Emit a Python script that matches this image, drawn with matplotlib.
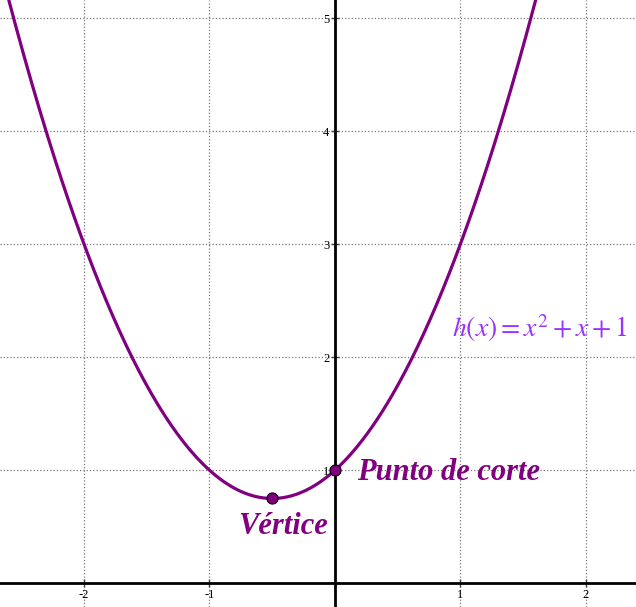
import numpy as np
import matplotlib.pyplot as plt

# parabola h(x) = x^2 + x + 1
coef = [1, 1, 1]
x_ticks = [-2, -1, 1, 2]
y_ticks = [1, 2, 3, 4, 5]
point_x = [-0.5, 0]
point_labels = ["Vértice", "Punto de corte"]

purple = "#800080"
plt.rcParams["axes.unicode_minus"] = False
plt.rcParams["mathtext.fontset"] = "stix"

fig = plt.figure(figsize=(6.36, 6.07), dpi=100)
ax = fig.add_axes([0, 0, 1, 1])
ax.set_xlim(-2.67, 2.40)
ax.set_ylim(-0.21, 5.16)

# axes through the origin
for s in ["top", "right"]:
    ax.spines[s].set_visible(False)
ax.spines["left"].set_position("zero")
ax.spines["bottom"].set_position("zero")
ax.spines["left"].set_linewidth(2)
ax.spines["bottom"].set_linewidth(2)

ax.set_xticks(x_ticks)
ax.set_yticks(y_ticks)
ax.tick_params(direction="inout", length=6, width=1, color="#444444",
               labelsize=9, pad=1)
for lab in ax.get_xticklabels() + ax.get_yticklabels():
    lab.set_family("Liberation Serif")
ax.grid(True, linestyle=":", color="#777777", linewidth=0.9)
ax.set_axisbelow(True)

xs = np.linspace(-2.67, 2.40, 400)
ys = np.polyval(coef, xs)
ax.plot(xs, ys, color=purple, lw=2.3)

py = np.polyval(coef, point_x)
ax.plot(point_x, py, "o", ms=8, mfc=purple, mec="black", mew=0.8, zorder=5)

bold = dict(family="Liberation Serif", weight="bold", style="italic",
            color=purple, fontsize=22)
ax.text(point_x[0] - 0.27, py[0] - 0.25, point_labels[0], va="center", ha="left", **bold)
ax.text(point_x[1] + 0.18, py[1] - 0.02, point_labels[1], va="center", ha="left", **bold)

ax.text(0.93, 2.26, r"$h(x)=x^2+x+1$", color="#9933ff", fontsize=20,
        ha="left", va="center")

fig.savefig("out.png", dpi=100)
